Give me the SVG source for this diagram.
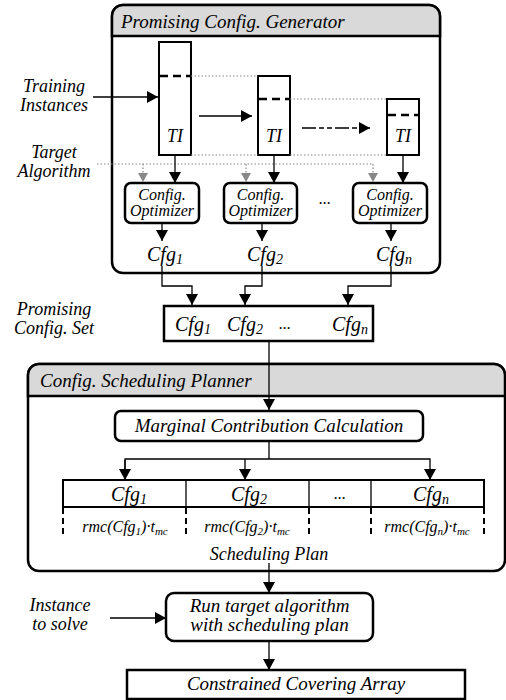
<svg xmlns="http://www.w3.org/2000/svg" width="506" height="700" viewBox="0 0 506 700">
<defs>
<style>
text{font-family:"Liberation Serif","DejaVu Serif",serif;font-style:italic;fill:#000}
.t19{font-size:19px}
.t18{font-size:18px}
.t16{font-size:16px}
.cfg{font-size:20px}
.sub{font-size:14px}
.box{fill:#fff;stroke:#000;stroke-width:2.5}
.thin{fill:none;stroke:#000;stroke-width:1.3}
.dot{fill:none;stroke:#888;stroke-width:1.2;stroke-dasharray:1.5,2}
.dash{fill:none;stroke:#000;stroke-width:2.5;stroke-dasharray:8,5}
.hdr{fill:#d9d9d9;stroke:#000;stroke-width:2.5}
</style>
<marker id="ah" markerUnits="userSpaceOnUse" markerWidth="12" markerHeight="12" refX="11" refY="6" orient="auto"><path d="M0,0 L11,6 L0,12 z" fill="#000"/></marker>
<marker id="ag" markerUnits="userSpaceOnUse" markerWidth="10" markerHeight="10" refX="9" refY="5" orient="auto"><path d="M0,0 L9,5 L0,10 z" fill="#888"/></marker>
</defs>

<g id="generator">
<rect class="box" x="112" y="5" width="328" height="268" rx="11"/>
<path class="hdr" d="M112,36 V16 A11,11 0 0 1 123,5 H429 A11,11 0 0 1 440,16 V36 Z"/>
<text class="t19" x="121" y="28">Promising Config. Generator</text>
</g>

<g id="ti1">
<rect fill="#fff" stroke="#000" stroke-width="2" x="159" y="42" width="32" height="113"/>
<line class="dash" x1="160" y1="76" x2="190" y2="76"/>
<text class="t18" x="175" y="142" text-anchor="middle">TI</text>
</g>
<g id="ti2">
<rect fill="#fff" stroke="#000" stroke-width="2" x="258" y="76" width="32" height="79"/>
<line class="dash" x1="259" y1="99" x2="289" y2="99"/>
<text class="t18" x="274" y="142" text-anchor="middle">TI</text>
</g>
<g id="ti3">
<rect fill="#fff" stroke="#000" stroke-width="2" x="387" y="99" width="32" height="56"/>
<line class="dash" x1="388" y1="115" x2="418" y2="115"/>
<text class="t18" x="403" y="142" text-anchor="middle">TI</text>
</g>

<g id="opt1">
<rect class="box" stroke-width="2" x="125" y="183" width="74" height="40" rx="6"/>
<text class="t16" x="162" y="200" text-anchor="middle">Config.</text>
<text class="t16" x="162" y="216" text-anchor="middle">Optimizer</text>
</g>
<g id="opt2">
<rect class="box" stroke-width="2" x="224" y="183" width="73" height="40" rx="6"/>
<text class="t16" x="260.5" y="200" text-anchor="middle">Config.</text>
<text class="t16" x="260.5" y="216" text-anchor="middle">Optimizer</text>
</g>
<g id="opt3">
<rect class="box" stroke-width="2" x="353" y="183" width="74" height="40" rx="6"/>
<text class="t16" x="390" y="200" text-anchor="middle">Config.</text>
<text class="t16" x="390" y="216" text-anchor="middle">Optimizer</text>
</g>
<text class="t16" x="325" y="204" text-anchor="middle">...</text>

<g id="cfgs">
<text class="cfg" x="147" y="261">Cfg<tspan class="sub" dy="3">1</tspan></text>
<text class="cfg" x="247" y="261">Cfg<tspan class="sub" dy="3">2</tspan></text>
<text class="cfg" x="376" y="261">Cfg<tspan class="sub" dy="3">n</tspan></text>
</g>

<g id="labels">
<text class="t18" x="54" y="92" text-anchor="middle">Training</text>
<text class="t18" x="54" y="111" text-anchor="middle">Instances</text>
<text class="t18" x="54" y="158" text-anchor="middle">Target</text>
<text class="t18" x="54" y="177" text-anchor="middle">Algorithm</text>
<text class="t18" x="54" y="315" text-anchor="middle">Promising</text>
<text class="t18" x="54" y="334" text-anchor="middle">Config. Set</text>
<text class="t18" x="60" y="611" text-anchor="middle">Instance</text>
<text class="t18" x="60" y="630" text-anchor="middle">to solve</text>
</g>

<g id="set">
<rect class="box" stroke-width="2" x="164" y="306" width="209" height="35"/>
<text class="cfg" x="175" y="331">Cfg<tspan class="sub" dy="3">1</tspan></text>
<text class="cfg" x="227" y="331">Cfg<tspan class="sub" dy="3">2</tspan></text>
<text class="t16" x="285" y="329" text-anchor="middle">...</text>
<text class="cfg" x="332" y="331">Cfg<tspan class="sub" dy="3">n</tspan></text>
</g>

<g id="planner">
<rect class="box" x="28" y="364" width="477" height="207" rx="11"/>
<path class="hdr" d="M28,396 V375 A11,11 0 0 1 39,364 H494 A11,11 0 0 1 505,375 V396 Z"/>
<text class="t19" x="40" y="387">Config. Scheduling Planner</text>
</g>

<g id="marginal">
<rect class="box" stroke-width="2" x="115" y="411" width="308" height="30" rx="6"/>
<text class="t19" x="269" y="432" text-anchor="middle">Marginal Contribution Calculation</text>
</g>

<g id="plan">
<rect fill="#fff" stroke="#000" stroke-width="2" x="63" y="480" width="421" height="27"/>
<line class="thin" stroke-width="2" x1="186" y1="480" x2="186" y2="507"/>
<line class="thin" stroke-width="2" x1="309" y1="480" x2="309" y2="507"/>
<line class="thin" stroke-width="2" x1="371" y1="480" x2="371" y2="507"/>
<text class="cfg" x="111" y="501">Cfg<tspan class="sub" dy="3">1</tspan></text>
<text class="cfg" x="231" y="501">Cfg<tspan class="sub" dy="3">2</tspan></text>
<text class="t16" x="340" y="499" text-anchor="middle">...</text>
<text class="cfg" x="413" y="501">Cfg<tspan class="sub" dy="3">n</tspan></text>
<g stroke="#000" stroke-width="2" stroke-dasharray="6,4">
<line x1="63" y1="508" x2="63" y2="538"/>
<line x1="186" y1="508" x2="186" y2="538"/>
<line x1="309" y1="508" x2="309" y2="538"/>
<line x1="371" y1="508" x2="371" y2="538"/>
<line x1="484" y1="508" x2="484" y2="538"/>
</g>
<text class="t16" x="125" y="532" text-anchor="middle">rmc(Cfg<tspan font-size="11" dy="3">1</tspan><tspan dy="-3">)·t</tspan><tspan font-size="11" dy="3">mc</tspan></text>
<text class="t16" x="247" y="532" text-anchor="middle">rmc(Cfg<tspan font-size="11" dy="3">2</tspan><tspan dy="-3">)·t</tspan><tspan font-size="11" dy="3">mc</tspan></text>
<text class="t16" x="427" y="532" text-anchor="middle">rmc(Cfg<tspan font-size="11" dy="3">n</tspan><tspan dy="-3">)·t</tspan><tspan font-size="11" dy="3">mc</tspan></text>
<text class="t18" x="269" y="560" text-anchor="middle">Scheduling Plan</text>
</g>

<g id="run">
<rect class="box" stroke-width="2" x="166" y="593" width="207" height="48" rx="8"/>
<text class="t19" x="269.5" y="612" text-anchor="middle">Run target algorithm</text>
<text class="t19" x="269.5" y="631" text-anchor="middle">with scheduling plan</text>
</g>

<g id="cca">
<rect class="box" stroke-width="2" x="127" y="670" width="338" height="29"/>
<text class="t19" x="296" y="690" text-anchor="middle">Constrained Covering Array</text>
</g>

<g id="connectors">
<line class="thin" x1="93" y1="97" x2="158" y2="97" marker-end="url(#ah)"/>
<line class="thin" x1="199" y1="116" x2="252" y2="116" marker-end="url(#ah)"/>
<line class="thin" x1="302" y1="128" x2="370" y2="128" stroke-dasharray="14,3,5,3,5,3" marker-end="url(#ah)"/>
<line class="dot" x1="191" y1="76" x2="258" y2="76"/>
<line class="dot" x1="290" y1="99" x2="387" y2="99"/>
<line class="dot" x1="191" y1="155" x2="258" y2="155"/>
<line class="dot" x1="290" y1="155" x2="387" y2="155"/>
<path class="dot" d="M97,164 H373"/>
<line class="dot" x1="143" y1="164" x2="143" y2="182" marker-end="url(#ag)"/>
<line class="dot" x1="246" y1="164" x2="246" y2="182" marker-end="url(#ag)"/>
<line class="dot" x1="373" y1="164" x2="373" y2="182" marker-end="url(#ag)"/>
<line class="thin" x1="175" y1="156" x2="175" y2="183" marker-end="url(#ah)"/>
<line class="thin" x1="274" y1="156" x2="274" y2="183" marker-end="url(#ah)"/>
<line class="thin" x1="403" y1="156" x2="403" y2="183" marker-end="url(#ah)"/>
<line class="thin" x1="162" y1="224" x2="162" y2="241" marker-end="url(#ah)"/>
<line class="thin" x1="262" y1="224" x2="262" y2="241" marker-end="url(#ah)"/>
<line class="thin" x1="391" y1="224" x2="391" y2="241" marker-end="url(#ah)"/>
<path class="thin" d="M162,266 V286 H192 V305" marker-end="url(#ah)"/>
<path class="thin" d="M262,266 V286 H245 V305" marker-end="url(#ah)"/>
<path class="thin" d="M391,266 V286 H348 V305" marker-end="url(#ah)"/>
<line class="thin" x1="269" y1="342" x2="269" y2="410" marker-end="url(#ah)"/>
<path class="thin" d="M269,442 V459"/>
<path class="thin" d="M125,480 V459 H430 V480" marker-end="url(#ah)"/>
<line class="thin" x1="125" y1="460" x2="125" y2="480" marker-end="url(#ah)"/>
<line class="thin" x1="245" y1="459" x2="245" y2="480" marker-end="url(#ah)"/>
<line class="thin" x1="269" y1="563" x2="269" y2="593" marker-end="url(#ah)"/>
<line class="thin" x1="110" y1="618" x2="166" y2="618" marker-end="url(#ah)"/>
<line class="thin" x1="269" y1="642" x2="269" y2="670" marker-end="url(#ah)"/>
</g>
</svg>
